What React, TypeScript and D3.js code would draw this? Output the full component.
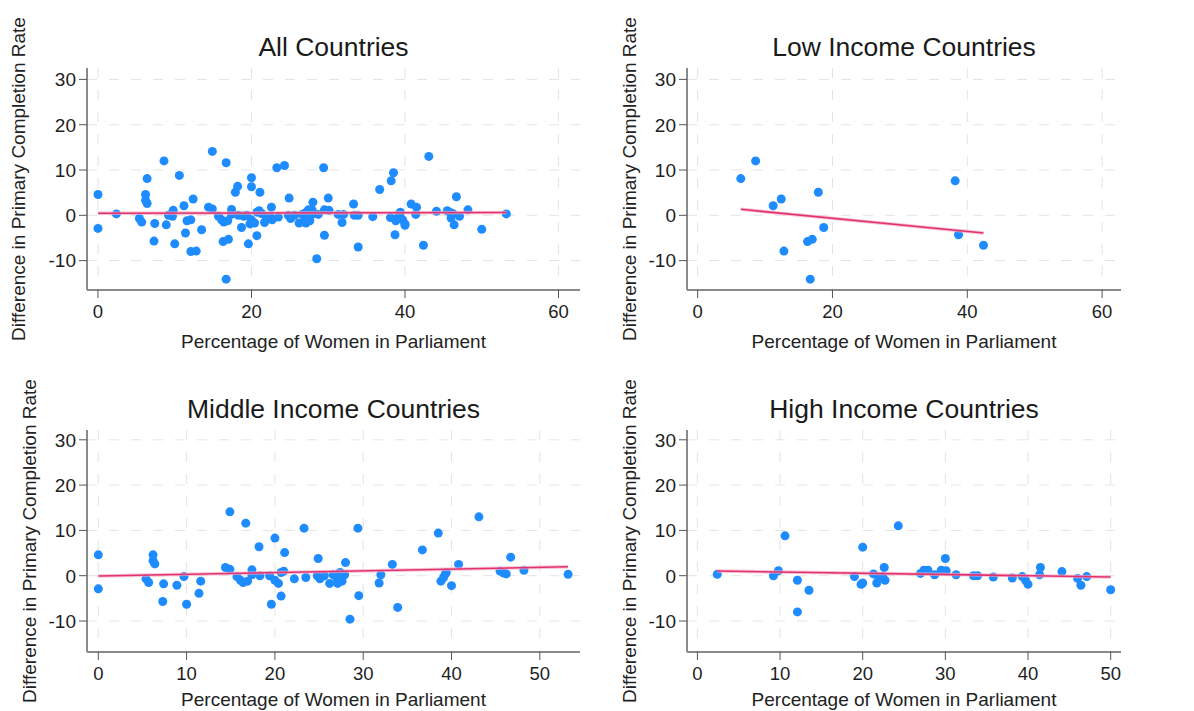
import React from "react";
import * as d3 from "d3";

// values: [percentage of women in parliament, difference in completion rate]
const lowIncome: [number, number][] = [
  [6.4, 8.1], [8.6, 12.0], [11.2, 2.1], [12.4, 3.6], [12.8, -7.9], [16.3, -5.8],
  [17.0, -5.3], [16.7, -14.1], [17.9, 5.1], [18.7, -2.7], [38.2, 7.6], [38.7, -4.3],
  [42.4, -6.6],
];

const middleIncome: [number, number][] = [
  [0, 4.6], [0, -2.9], [5.4, -0.7], [5.7, -1.5], [6.2, 4.6], [6.2, 3.3], [6.4, 2.6],
  [7.4, -1.8], [7.3, -5.7], [8.9, -2.1], [9.7, -0.2], [10.0, -6.3], [11.4, -3.9],
  [11.6, -1.2], [14.4, 1.8], [14.9, 1.4], [14.9, 14.1], [15.7, -0.2], [16.1, -1.0],
  [16.4, -1.5], [16.7, 11.6], [16.9, -1.2], [17.4, 1.3], [17.4, 0.2], [18.2, 6.4],
  [18.3, 0], [19.4, 0], [19.6, -6.3], [20.0, 8.3], [20.0, -1.0], [20.4, -1.7],
  [20.7, -4.5], [20.7, 0.7], [21.0, 1.0], [21.1, 5.1], [22.2, -0.7], [23.3, 10.5],
  [23.5, -0.4], [24.9, 3.8], [24.8, 0], [25.1, -0.7], [25.6, 0], [26.2, -1.7],
  [26.6, 0.2], [27.0, -0.5], [27.1, -1.7], [27.4, 0.7], [27.6, -1.2], [27.9, 0.2],
  [28.0, 2.9], [28.5, -9.6], [29.4, 10.5], [29.5, -4.4], [31.8, -1.6], [32.0, 0.2],
  [33.3, 2.5], [33.9, -7.0], [36.7, 5.7], [38.5, 9.4], [38.8, -1.2], [39.1, -0.4],
  [39.3, 0.4], [39.4, 0.7], [40.0, -2.2], [40.8, 2.5], [43.1, 13.0], [45.5, 1.0],
  [45.9, 0.6], [46.2, 0.4], [46.7, 4.1], [48.2, 1.2], [53.2, 0.3],
];

const highIncome: [number, number][] = [
  [2.4, 0.3], [9.2, 0], [9.8, 1.1], [10.6, 8.8], [12.1, -1.0], [12.1, -8.0],
  [13.5, -3.2], [19.0, -0.2], [19.8, -1.9], [20.0, -1.6], [20.0, 6.3], [21.3, 0.4],
  [21.7, -1.6], [21.9, -0.3], [22.6, 1.8], [22.7, -1.0], [22.4, -0.2], [24.3, 11.0],
  [27.0, 0.5], [27.4, 1.2], [27.9, 1.2], [28.7, 0.2], [29.5, 1.2], [30.0, 3.8],
  [30.1, 1.1], [31.3, 0.2], [33.4, 0], [33.9, 0], [35.8, -0.3], [38.1, -0.5],
  [39.3, -0.2], [39.7, -1.0], [40.0, -1.9], [41.4, 0.2], [41.5, 1.8], [44.1, 0.9],
  [46.0, -0.6], [46.4, -2.1], [47.1, -0.2], [50.0, -3.1],
];

const allCountries = [...lowIncome, ...middleIncome, ...highIncome];

const yTicks = [-10, 0, 10, 20, 30];
const xTicksWide = [0, 20, 40, 60];
const xTicksFine = [0, 10, 20, 30, 40, 50];

const titles = ["All Countries", "Low Income Countries", "Middle Income Countries", "High Income Countries"];
const xTitle = "Percentage of Women in Parliament";
const yTitle = "Difference in Primary Completion Rate";

const FONT = "'Liberation Sans', Arial, Helvetica, sans-serif";
const DOT = "#1e8cff";
const FIT = "#e3336f";
const GRID = "#e4e4e4";
const AXIS = "#8a8a8a";

// ordinary least squares, drawn over the data's x range
function fit(data: [number, number][]) {
  const mx = d3.mean(data, (d) => d[0]) as number;
  const my = d3.mean(data, (d) => d[1]) as number;
  const sxy = d3.sum(data, (d) => (d[0] - mx) * (d[1] - my));
  const sxx = d3.sum(data, (d) => (d[0] - mx) ** 2);
  const b = sxy / sxx;
  const a = my - b * mx;
  const [x0, x1] = d3.extent(data, (d) => d[0]) as [number, number];
  return [[x0, a + b * x0], [x1, a + b * x1]] as [number, number][];
}

type PanelProps = {
  data: [number, number][];
  title: string;
  xTicks: number[];
  xDomain: [number, number];
  left: number;
  right: number;
  top: number;
  bottom: number;
  yZero: number;
  yTitleX: number;
};

function Panel({ data, title, xTicks, xDomain, left, right, top, bottom, yZero, yTitleX }: PanelProps) {
  const x = d3.scaleLinear().domain(xDomain).range([left, right]);
  const pxPerUnit = 4.53;
  const y = d3
    .scaleLinear()
    .domain([(yZero - bottom) / pxPerUnit, (yZero - top) / pxPerUnit])
    .range([bottom, top]);
  const line = d3
    .line<[number, number]>()
    .x((d) => x(d[0]))
    .y((d) => y(d[1]));
  const fitPts = fit(data);
  const cx = (left + right) / 2;

  return (
    <g>
      {/* grid */}
      {yTicks.map((t) => (
        <line key={"gy" + t} x1={left} x2={right} y1={y(t)} y2={y(t)} stroke={GRID} strokeDasharray="10,12" />
      ))}
      {xTicks.map((t) => (
        <line key={"gx" + t} x1={x(t)} x2={x(t)} y1={top} y2={bottom} stroke={GRID} strokeDasharray="10,12" />
      ))}

      {/* axes */}
      <line x1={left} x2={left} y1={top} y2={bottom} stroke={AXIS} strokeWidth={2} />
      <line x1={left} x2={right} y1={bottom} y2={bottom} stroke={AXIS} strokeWidth={2} />
      {yTicks.map((t) => (
        <g key={"ty" + t}>
          <line x1={left - 8} x2={left} y1={y(t)} y2={y(t)} stroke="#555" strokeWidth={1} />
          <text x={left - 11} y={y(t)} dy="0.36em" textAnchor="end" fontSize={19} fill="#1e1e1e" fontFamily={FONT}>
            {t}
          </text>
        </g>
      ))}
      {xTicks.map((t) => (
        <g key={"tx" + t}>
          <line x1={x(t)} x2={x(t)} y1={bottom} y2={bottom + 8} stroke="#555" strokeWidth={1} />
          <text x={x(t)} y={bottom + 28} textAnchor="middle" fontSize={18.5} fill="#1e1e1e" fontFamily={FONT}>
            {t}
          </text>
        </g>
      ))}

      {/* points */}
      {data.map((d, i) => (
        <circle key={i} cx={x(d[0])} cy={y(d[1])} r={4.5} fill={DOT} />
      ))}

      {/* linear fit */}
      <path d={line(fitPts) ?? ""} fill="none" stroke="#f2a6c2" strokeWidth={3.5} strokeOpacity={0.7} />
      <path d={line(fitPts) ?? ""} fill="none" stroke={FIT} strokeWidth={1.6} />

      {/* titles */}
      <text x={cx} y={top - 12} textAnchor="middle" fontSize={26.5} fill="#1a1a1a" fontFamily={FONT}>
        {title}
      </text>
      <text x={cx} y={Math.min(bottom + 58, 706)} textAnchor="middle" fontSize={19} fill="#222" fontFamily={FONT}>
        {xTitle}
      </text>
      <text
        transform={`translate(${yTitleX},${(top + bottom) / 2}) rotate(-90)`}
        textAnchor="middle"
        fontSize={19}
        fill="#222"
        fontFamily={FONT}
      >
        {yTitle}
      </text>
    </g>
  );
}

export default function App() {
  return (
    <svg
      width={1194}
      height={711}
      style={{ position: "absolute", left: 0, top: 0, background: "#fff" }}
    >
      <Panel data={allCountries} title={titles[0]} xTicks={xTicksWide} xDomain={[-1.43, 62.8]}
        left={87} right={580} top={68} bottom={290} yZero={215.3} yTitleX={25} />
      <Panel data={lowIncome} title={titles[1]} xTicks={xTicksWide} xDomain={[-1.58, 62.8]}
        left={687} right={1121} top={68} bottom={290} yZero={215.3} yTitleX={636} />
      <Panel data={middleIncome} title={titles[2]} xTicks={xTicksFine} xDomain={[-1.28, 54.55]}
        left={87} right={580} top={430} bottom={652} yZero={575.7} yTitleX={36} />
      <Panel data={highIncome} title={titles[3]} xTicks={xTicksFine} xDomain={[-1.26, 51.25]}
        left={687} right={1121} top={430} bottom={652} yZero={575.7} yTitleX={636} />
    </svg>
  );
}
